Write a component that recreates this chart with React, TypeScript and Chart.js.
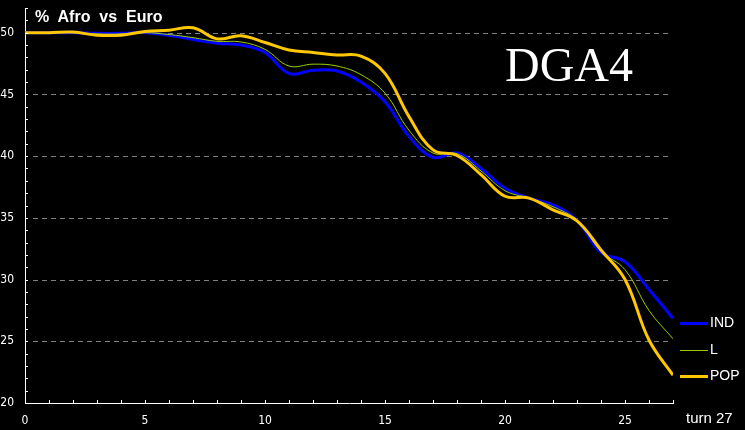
import React, { useEffect, useRef } from "react";
import { Chart, registerables } from "chart.js";

Chart.register(...registerables);

const turns = [0, 1, 2, 3, 4, 5, 6, 7, 8, 9, 10, 11, 12, 13, 14, 15, 16, 17, 18, 19, 20, 21, 22, 23, 24, 25, 26, 27];
const indValues = [50, 50, 50, 49.95, 49.95, 50, 49.8, 49.45, 49.15, 49.0, 48.4, 46.7, 46.95, 46.9, 46.0, 44.4, 41.6, 39.9, 40.25, 39.0, 37.4, 36.6, 36.05, 34.8, 32.2, 31.45, 29.2, 26.85];
const lValues = [50, 50, 50, 49.9, 49.9, 50, 49.85, 49.6, 49.3, 49.25, 48.65, 47.3, 47.45, 47.3, 46.6, 45.1, 42.1, 40.25, 40.2, 38.8, 37.2, 36.6, 35.9, 34.8, 32.3, 30.8, 27.5, 25.2];
const popValues = [50, 50, 50.05, 49.8, 49.8, 50.1, 50.2, 50.4, 49.5, 49.75, 49.2, 48.6, 48.4, 48.2, 48.1, 46.7, 43.2, 40.5, 40.05, 38.5, 36.75, 36.6, 35.65, 34.75, 32.4, 30.0, 25.1, 22.25];
const yTickLabels = [20, 25, 30, 35, 40, 45, 50];
const xTickLabels = [0, 5, 10, 15, 20, 25];

const seriesNames = ["IND", "L", "POP"];
const seriesColors = ["#0000ff", "#99cc00", "#ffc800"];
const seriesWidths = [3, 1, 3];

const narrowFont = '"DejaVu Sans Condensed", "Liberation Sans Narrow", sans-serif';
const sansFont = '"Liberation Sans", Arial, sans-serif';

const axisDecor = {
  id: "axisDecor",
  beforeDatasetsDraw(chart: any) {
    const { ctx, chartArea, scales } = chart;
    const y = scales.y;
    ctx.save();
    ctx.strokeStyle = "#808080";
    ctx.lineWidth = 1;
    ctx.setLineDash([5, 4]);
    ctx.beginPath();
    for (const v of yTickLabels) {
      if (v <= y.min) continue;
      const py = Math.round(y.getPixelForValue(v)) + 0.5;
      ctx.moveTo(chartArea.left + 8, py);
      ctx.lineTo(chartArea.right - 5, py);
    }
    ctx.stroke();
    ctx.restore();
  },
  afterDraw(chart: any) {
    const { ctx, chartArea, scales } = chart;
    const x = scales.x;
    const y = scales.y;
    ctx.save();
    ctx.strokeStyle = "#ffffff";
    ctx.lineWidth = 1;
    ctx.beginPath();
    for (let t = x.min + 1; t <= x.max; t++) {
      const px = Math.round(x.getPixelForValue(t)) + 0.5;
      ctx.moveTo(px, chartArea.bottom);
      ctx.lineTo(px, chartArea.bottom - 3);
    }
    for (let v = y.min + 1; v <= y.max; v++) {
      const py = Math.round(y.getPixelForValue(v)) + 0.5;
      ctx.moveTo(chartArea.left, py);
      ctx.lineTo(chartArea.left + 3, py);
    }
    ctx.stroke();
    ctx.restore();
  },
};

export default function App() {
  const canvasRef = useRef<HTMLCanvasElement | null>(null);

  useEffect(() => {
    if (!canvasRef.current) return;
    const mk = (vals: number[]) => turns.map((t, i) => ({ x: t, y: vals[i] }));
    const allValues = [indValues, lValues, popValues];
    const chart = new Chart(canvasRef.current, {
      type: "line",
      data: {
        datasets: seriesNames.map((name, i) => ({
          label: name,
          data: mk(allValues[i]),
          borderColor: seriesColors[i],
          backgroundColor: seriesColors[i],
          borderWidth: seriesWidths[i],
          pointRadius: 0,
          tension: 0.4,
          fill: false,
          order: 2 - i,
        })),
      },
      options: {
        animation: false,
        responsive: false,
        maintainAspectRatio: false,
        devicePixelRatio: 1,
        layout: { padding: { top: 8, right: 72, left: 0, bottom: 0 } },
        plugins: {
          legend: { display: false },
          tooltip: { enabled: false },
          title: { display: false },
        },
        scales: {
          x: {
            type: "linear",
            min: 0,
            max: 27,
            afterFit: (s: any) => {
              s.height = 27;
              s.paddingLeft = 0;
              s.paddingRight = 0;
            },
            afterBuildTicks: (s: any) => {
              s.ticks = xTickLabels.map((v) => ({ value: v }));
            },
            ticks: {
              color: "#ffffff",
              font: { family: narrowFont, size: 12 },
              padding: 11,
              maxRotation: 0,
              autoSkip: false,
            },
            grid: { display: false, drawTicks: false },
            border: { display: true, color: "#ffffff", width: 1 },
          },
          y: {
            type: "linear",
            min: 20,
            max: 52,
            afterFit: (s: any) => {
              s.width = 25;
              s.paddingTop = 0;
              s.paddingBottom = 0;
            },
            afterBuildTicks: (s: any) => {
              s.ticks = yTickLabels.map((v) => ({ value: v }));
            },
            ticks: {
              color: "#ffffff",
              font: { family: narrowFont, size: 12 },
              padding: 11,
              autoSkip: false,
            },
            grid: { display: false, drawTicks: false },
            border: { display: true, color: "#ffffff", width: 1 },
          },
        },
      },
      plugins: [axisDecor],
    });
    return () => chart.destroy();
  }, []);

  const legendTops = [323, 350, 376];

  return (
    <div
      style={{
        position: "fixed",
        left: 0,
        top: 0,
        width: 745,
        height: 430,
        background: "#000000",
        overflow: "hidden",
      }}
    >
      <canvas ref={canvasRef} width={745} height={430} style={{ position: "absolute", left: 0, top: 0 }} />
      <div
        style={{
          position: "absolute",
          left: 35,
          top: 7,
          color: "#ffffff",
          fontFamily: sansFont,
          fontWeight: "bold",
          fontSize: 16,
          whiteSpace: "pre",
          lineHeight: "20px",
        }}
      >
        {"%  Afro  vs  Euro"}
      </div>
      <div
        style={{
          position: "absolute",
          left: 505,
          top: 37,
          color: "#ffffff",
          fontFamily: '"Liberation Serif", "Times New Roman", serif',
          fontSize: 48,
          lineHeight: "56px",
          whiteSpace: "pre",
        }}
      >
        DGA4
      </div>
      {seriesNames.map((name, i) => (
        <React.Fragment key={name}>
          <div
            style={{
              position: "absolute",
              left: 680,
              top: legendTops[i] - Math.floor(seriesWidths[i] / 2),
              width: 28,
              height: seriesWidths[i],
              background: seriesColors[i],
            }}
          />
          <div
            style={{
              position: "absolute",
              left: 710,
              top: legendTops[i] - 9,
              color: "#ffffff",
              fontFamily: sansFont,
              fontSize: 14,
              lineHeight: "17px",
              whiteSpace: "pre",
            }}
          >
            {name}
          </div>
        </React.Fragment>
      ))}
      <div
        style={{
          position: "absolute",
          left: 686,
          top: 409,
          color: "#ffffff",
          fontFamily: sansFont,
          fontSize: 15,
          lineHeight: "17px",
          whiteSpace: "pre",
        }}
      >
        turn 27
      </div>
    </div>
  );
}
